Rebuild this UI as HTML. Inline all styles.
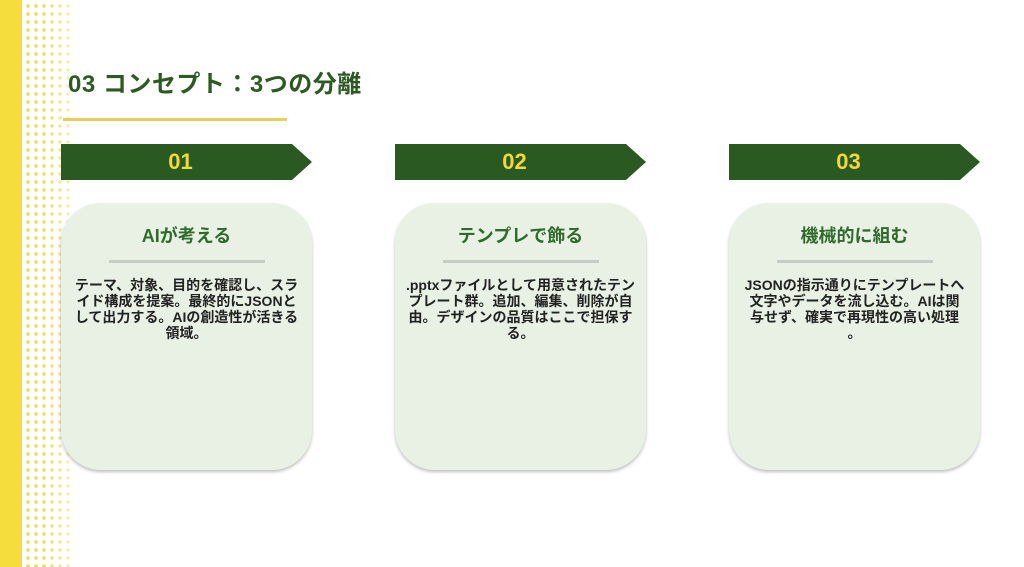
<!DOCTYPE html>
<html><head><meta charset="utf-8"><style>
*{margin:0;padding:0;box-sizing:border-box}
body{width:1024px;height:567px;background:#fff;position:relative;overflow:hidden;font-family:"Liberation Sans","Noto Sans CJK JP",sans-serif}
.bar{position:absolute;left:0;top:0;width:22px;height:567px;background:#f4dd3c}
.dots{position:absolute;left:24px;top:0;width:48px;height:567px;background-image:radial-gradient(circle,#f0d95a 1.6px,transparent 2px);background-size:8px 8px;background-position:0 2px;-webkit-mask-image:linear-gradient(to right,#000 40%,rgba(0,0,0,.35));mask-image:linear-gradient(to right,#000 40%,rgba(0,0,0,.35))}
h1{position:absolute;left:68px;top:64px;font-size:24px;font-weight:bold;color:#2d5a24;letter-spacing:0.5px;white-space:nowrap}
.ul{position:absolute;left:63px;top:118px;width:224px;height:3px;background:#e8cf5a}
.ban{position:absolute;top:144px;width:251px;height:36px;background:#2a5a22;clip-path:polygon(0 0,231px 0,100% 50%,231px 100%,0 100%);color:#f2d93a;font-weight:bold;font-size:22px;text-align:center;line-height:36px;padding-right:12px}
.card{position:absolute;top:203px;width:251px;height:267px;background:#e8f1e4;border-radius:40px;box-shadow:0 2px 3px rgba(0,0,0,.25);text-align:center}
.card h2{font-size:18px;color:#2f6b2a;font-weight:bold;margin-top:19px;height:24px;white-space:nowrap}
.card .d{width:156px;height:3px;background:#c8ccc6;margin:14px auto 0}
.card p{font-size:14px;font-weight:bold;color:#222;line-height:16px;margin:14px 0 0;white-space:nowrap}
</style></head><body>
<div class="bar"></div><div class="dots"></div>
<h1>03 コンセプト：3つの分離</h1>
<div class="ul"></div>
<div class="ban" style="left:61px">01</div>
<div class="ban" style="left:395px">02</div>
<div class="ban" style="left:729px">03</div>
<div class="card" style="left:61px"><h2>AIが考える</h2><div class="d"></div><p>テーマ、対象、目的を確認し、スラ<br>イド構成を提案。最終的にJSONと<br>して出力する。AIの創造性が活きる<br>領域。</p></div>
<div class="card" style="left:395px"><h2>テンプレで飾る</h2><div class="d"></div><p>.pptxファイルとして用意されたテン<br>プレート群。追加、編集、削除が自<br>由。デザインの品質はここで担保す<br>る。</p></div>
<div class="card" style="left:729px"><h2>機械的に組む</h2><div class="d"></div><p>JSONの指示通りにテンプレートへ<br>文字やデータを流し込む。AIは関<br>与せず、確実で再現性の高い処理<br>。</p></div>
</body></html>
